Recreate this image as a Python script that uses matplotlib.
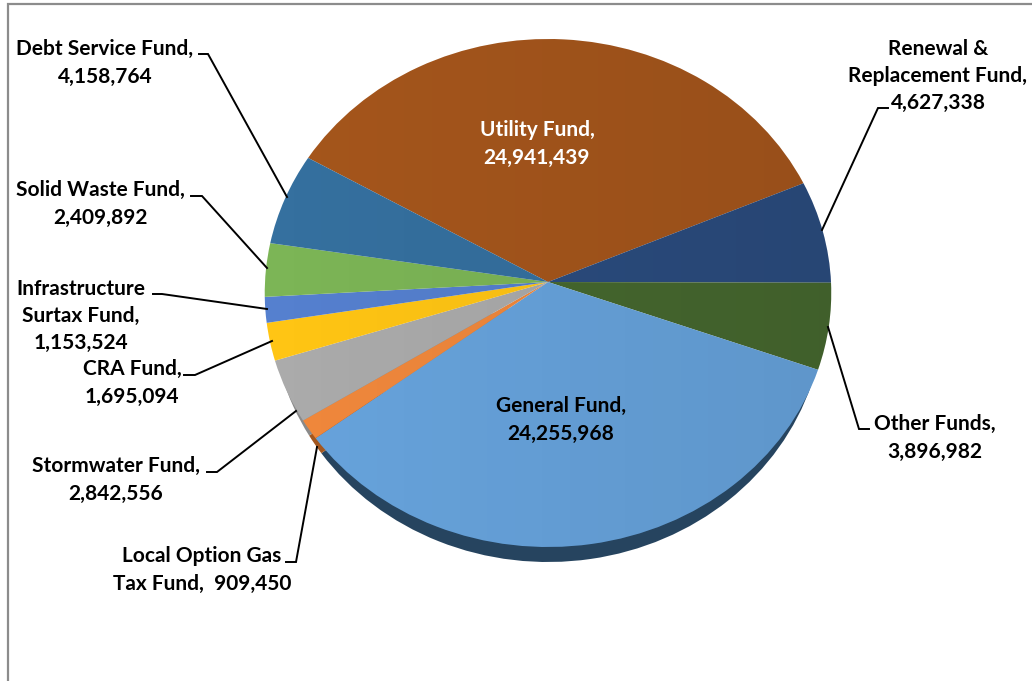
"""Fund balances pie, tilted with a projective warp like the Excel 3D original."""
import numpy as np
import matplotlib
matplotlib.use("Agg")
import matplotlib.pyplot as plt
from matplotlib.path import Path
from matplotlib.transforms import Transform

W, H = 1032, 681

# clockwise from the Utility Fund wedge
funds = ["Utility Fund", "Renewal & Replacement Fund", "Other Funds", "General Fund",
         "Local Option Gas Tax Fund", "Stormwater Fund", "CRA Fund",
         "Infrastructure Surtax Fund", "Solid Waste Fund", "Debt Service Fund"]
values = [24941439, 4627338, 3896982, 24255968, 909450,
          2842556, 1695094, 1153524, 2409892, 4158764]
colors = ["#A5561C", "#2B4C7E", "#46682F", "#67A3DC", "#F0883C",
          "#ABABAB", "#FFC514", "#5580CF", "#7CB556", "#35709F"]
# only the front of the pie shows a rim
rim_colors = ["none", "none", "none", "#26445F", "#A3571F",
              "#8A8A8A", "none", "none", "none", "none"]
label_lines = ["Utility Fund,\n24,941,439", "Renewal &\nReplacement Fund,\n4,627,338",
               "Other Funds,\n3,896,982", "General Fund,\n24,255,968",
               "Local Option Gas\nTax Fund,  909,450", "Stormwater Fund,\n2,842,556",
               "CRA Fund,\n1,695,094", "Infrastructure\nSurtax Fund,\n1,153,524",
               "Solid Waste Fund,\n2,409,892", "Debt Service Fund,\n4,158,764"]

START = 150
CX, CY = 548, 282      # where the wedges meet, in pixels
RX, R_UP, R_DOWN = 283, 243, 265
RIM = 15


class Tilt(Transform):
    """Unit circle -> perspective ellipse in pixels, near edge (y<0) comes out bigger."""
    input_dims = output_dims = 2
    is_separable = False

    def __init__(self, cx, cy, a):
        super().__init__()
        self.cx, self.cy, self.a = cx, cy, a
        self.e = (R_DOWN - R_UP) / (R_DOWN + R_UP)
        self.b = R_UP * (1 + self.e)

    def transform_non_affine(self, values):
        xy = np.asarray(values, dtype=float)
        d = 1 + self.e * xy[:, 1]
        return np.column_stack([self.cx + self.a * xy[:, 0] / d,
                                self.cy - self.b * xy[:, 1] / d])


plt.rcParams["font.family"] = ["Lato", "DejaVu Sans"]
fig = plt.figure(figsize=(W / 100, H / 100), dpi=100, facecolor="white")
ax = fig.add_axes([0, 0, 1, 1])


def tilted_pie(cols, tilt, z):
    wedges, _ = ax.pie(values, colors=cols, startangle=START, counterclock=False, radius=1)
    for w in wedges:
        w.set_transform(tilt + ax.transData)
        w.set_zorder(z)


# rim first, so the top surface covers all but its lower edge
tilted_pie(rim_colors, Tilt(CX, CY + RIM, RX - 7), 1)
top = Tilt(CX, CY, RX)
tilted_pie(colors, top, 2)

# Excel's faint left-to-right gradient
shade = np.zeros((2, 256, 4))
shade[..., 3] = np.linspace(0, 0.08, 256)
im = ax.imshow(shade, extent=(CX - RX, CX + RX, CY + R_DOWN, CY - R_UP), aspect="auto",
               zorder=3, interpolation="bilinear")
im.set_clip_path(Path.unit_circle(), top + ax.transData)

ax.set_aspect("auto")
ax.set_xlim(0, W)
ax.set_ylim(H, 0)
ax.axis("off")

ax.plot([8, 8, W], [H, 3.5, 3.5], color="#8C8C8C", lw=1.6, solid_joinstyle="miter", zorder=4)

label_pos = [(537, 144), (938, 76), (935, 438), (561, 420), (202, 570),
             (116, 480), (132, 383), (81, 316), (100, 204), (105, 63)]
for i, (name, txt) in enumerate(zip(funds, label_lines)):
    x, y = label_pos[i]
    ax.text(x, y, txt, ha="center", va="center", fontsize=15, fontweight="bold", zorder=5,
            color="white" if name == "Utility Fund" else "black", linespacing=1.45)

leaders = [
    ([199, 208, 287], [54, 54, 197]),
    ([191, 202, 267], [196, 196, 268]),
    ([153, 162, 267], [294, 294, 309]),
    ([184, 195, 272], [375, 375, 341]),
    ([207, 217, 296], [472, 472, 411]),
    ([286, 296, 317], [562, 562, 447]),
    ([888, 878, 822], [108, 108, 230]),
    ([869, 859, 828], [429, 429, 327]),
]
for xs, ys in leaders:
    ax.plot(xs, ys, color="black", lw=1.4, solid_joinstyle="miter", zorder=4)

fig.savefig("out.png", dpi=100)
